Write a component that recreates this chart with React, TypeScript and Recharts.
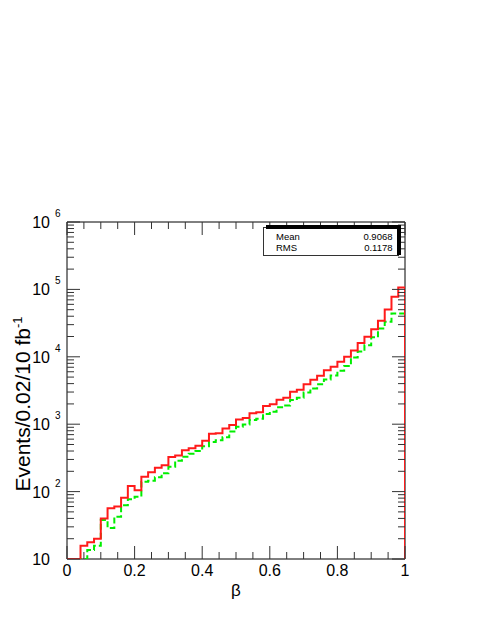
import React from 'react'
import { ComposedChart, Line, XAxis, YAxis, ReferenceArea } from 'recharts'

// bin lower edges (0.02 wide), last entry closes the histogram at x = 1
const binEdges = [
  0, 0.02, 0.04, 0.06, 0.08, 0.1, 0.12, 0.14, 0.16, 0.18,
  0.2, 0.22, 0.24, 0.26, 0.28, 0.3, 0.32, 0.34, 0.36, 0.38,
  0.4, 0.42, 0.44, 0.46, 0.48, 0.5, 0.52, 0.54, 0.56, 0.58,
  0.6, 0.62, 0.64, 0.66, 0.68, 0.7, 0.72, 0.74, 0.76, 0.78,
  0.8, 0.82, 0.84, 0.86, 0.88, 0.9, 0.92, 0.94, 0.96, 0.98, 1
]

// red solid histogram
const redCounts = [
  10, 10, 15.7, 17.7, 20, 40, 56.5, 60, 81, 121,
  105, 166, 193, 226, 247, 325, 343, 412, 439, 478,
  569, 720, 737, 862, 973, 1170, 1240, 1453, 1500, 1862,
  1972, 2311, 2472, 3034, 3250, 3910, 4580, 5248, 6310, 7130,
  8420, 10030, 12400, 16000, 19800, 25600, 34400, 50500, 78000, 107000
]

// green dashed histogram
const greenCounts = [
  10, 10, 10, 13.6, 15.7, 38, 28.8, 42.5, 62.7, 77,
  84, 140, 145, 163, 187, 234, 287, 330, 365, 400,
  470, 545, 580, 640, 776, 918, 990, 1150, 1200, 1420,
  1530, 1780, 1900, 2280, 2470, 2950, 3400, 3900, 4600, 5300,
  6200, 7300, 9800, 12000, 14800, 19500, 26300, 33000, 44000, 44000
]

const xTicks = [
  0, 0.05, 0.1, 0.15, 0.2, 0.25, 0.3, 0.35, 0.4, 0.45, 0.5,
  0.55, 0.6, 0.65, 0.7, 0.75, 0.8, 0.85, 0.9, 0.95, 1
]
const xMajor = [0, 0.2, 0.4, 0.6, 0.8, 1]
const xLabels = ['0', '0.2', '0.4', '0.6', '0.8', '1']

const yDecades = [10, 100, 1000, 10000, 100000, 1000000]
const yExponents = ['', '2', '3', '4', '5', '6']

const stats = [
  { label: 'Mean', value: '0.9068' },
  { label: 'RMS', value: '0.1178' }
]

const FLOOR = 10
const W = 485
const H = 627
const PLOT = { left: 67, right: 405, top: 222, bottom: 559 }
const FONT = '"Liberation Sans", Arial, Helvetica, sans-serif'
const AXIS = '#333'

const yTicks: number[] = []
yDecades.forEach((d, i) => {
  if (i === yDecades.length - 1) { yTicks.push(d); return }
  for (let k = 1; k <= 9; k++) yTicks.push(d * k)
})

const chartData = binEdges.map((x, i) => ({
  x,
  red: i < redCounts.length ? redCounts[i] : FLOOR,
  green: i < greenCounts.length ? greenCounts[i] : FLOOR
}))

const XTick = (props: any) => {
  const { x, y, payload } = props
  const idx = xMajor.indexOf(payload.value)
  const len = idx >= 0 ? 13 : 7
  return (
    <g>
      <line x1={x} y1={y} x2={x} y2={y - len} stroke={AXIS} strokeWidth={1} />
      <line x1={x} y1={PLOT.top} x2={x} y2={PLOT.top + len} stroke={AXIS} strokeWidth={1} />
      {idx >= 0 && (
        <text x={x} y={y + 17} textAnchor="middle" fontSize={16} fontFamily={FONT} fill="#000">
          {xLabels[idx]}
        </text>
      )}
    </g>
  )
}

const YTick = (props: any) => {
  const { x, y, payload } = props
  const idx = yDecades.indexOf(payload.value)
  const len = idx >= 0 ? 13 : 7
  return (
    <g>
      <line x1={x} y1={y} x2={x + len} y2={y} stroke={AXIS} strokeWidth={1} />
      <line x1={PLOT.right} y1={y} x2={PLOT.right - len} y2={y} stroke={AXIS} strokeWidth={1} />
      {idx >= 0 && (
        <text x={x - 17} y={y + 6} textAnchor="end" fontSize={16} fontFamily={FONT} fill="#000">
          10
        </text>
      )}
      {idx > 0 && (
        <text x={x - 12} y={y - 5} textAnchor="start" fontSize={10} fontFamily={FONT} fill="#000">
          {yExponents[idx]}
        </text>
      )}
    </g>
  )
}

export default function App() {
  return (
    <div style={{ position: 'absolute', left: 0, top: 0, width: W, height: H, background: '#fff' }}>
      <ComposedChart
        width={W}
        height={H}
        data={chartData}
        margin={{ top: PLOT.top, right: W - PLOT.right, bottom: H - PLOT.bottom - 1, left: PLOT.left - 1 }}
      >
        <ReferenceArea x1={0} x2={1} y1={10} y2={1000000} fill="none" stroke="#000" strokeWidth={1} />
        <XAxis
          dataKey="x"
          type="number"
          domain={[0, 1]}
          ticks={xTicks}
          interval={0}
          height={1}
          tickSize={0}
          tickMargin={0}
          axisLine={false}
          tickLine={false}
          tick={XTick}
          allowDataOverflow
        />
        <YAxis
          type="number"
          scale="log"
          domain={[10, 1000000]}
          ticks={yTicks}
          interval={0}
          width={1}
          tickSize={0}
          tickMargin={0}
          axisLine={false}
          tickLine={false}
          tick={YTick}
          allowDataOverflow
        />
        <Line
          type="stepAfter"
          dataKey="green"
          stroke="#00ee00"
          strokeWidth={2}
          strokeDasharray="6 3"
          dot={false}
          isAnimationActive={false}
        />
        <Line
          type="stepAfter"
          dataKey="red"
          stroke="#ff1a1a"
          strokeWidth={2}
          dot={false}
          isAnimationActive={false}
        />
      </ComposedChart>

      <svg width={W} height={H} style={{ position: 'absolute', left: 0, top: 0, pointerEvents: 'none' }}>
        <text
          transform="translate(30,404) rotate(-90)"
          textAnchor="middle"
          fontSize={21}
          fontFamily={FONT}
          fill="#000"
        >
          Events/0.02/10 fb<tspan dy={-8} fontSize={13}>-1</tspan>
        </text>
        <text x={236} y={596} textAnchor="middle" fontSize={17} fontFamily={FONT} fill="#000">
          β
        </text>

        {/* stats box */}
        <rect x={263.5} y={227.5} width={135} height={28} fill="#fff" stroke="#333" strokeWidth={1} />
        <rect x={266} y={225} width={135} height={4} fill="#000" />
        <rect x={397} y={225} width={4} height={30} fill="#000" />
        {stats.map((s, i) => (
          <g key={s.label}>
            <text x={276} y={239.5 + i * 11} fontSize={9.5} fontFamily={FONT} fill="#000">
              {s.label}
            </text>
            <text x={392.5} y={239.5 + i * 11} textAnchor="end" fontSize={9.5} fontFamily={FONT} fill="#000">
              {s.value}
            </text>
          </g>
        ))}
      </svg>
    </div>
  )
}
